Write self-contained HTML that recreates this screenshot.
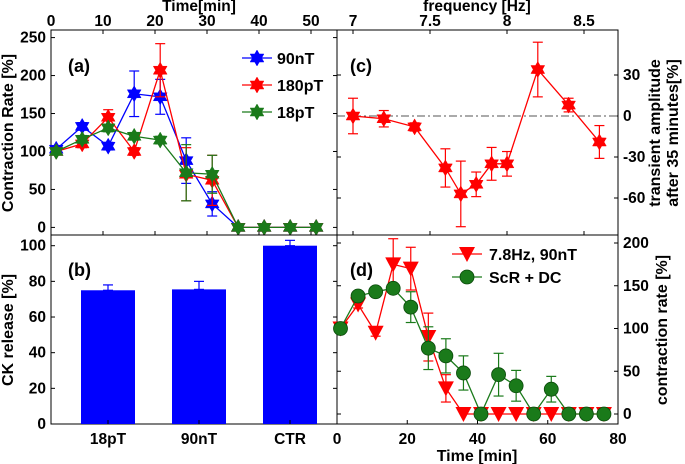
<!DOCTYPE html>
<html><head><meta charset="utf-8"><style>
body{margin:0;background:#fff}
svg{display:block;font-family:"Liberation Sans",Arial,sans-serif;font-weight:bold}
</style></head><body>
<svg id="c" width="685" height="464"></svg>
<script>
// Panel (a)
const aTimes=[1,6,11,16,21,26,31,36,41,46,51];
const aBlue=[103,133,107,176,172,88,31,0,0,0,0];
const aBlueErr=[4,5,5,30,23,30,16,0,0,0,0];
const aRed=[100,110,145,100,207,70,62,0,0,0,0];
const aRedErr=[3,5,10,5,35,35,33,0,0,0,0];
const aGreen=[100,116,131,120,115,72,70,0,0,0,0];
const aGreenErr=[3,5,5,5,5,37,25,0,0,0,0];
const aXTicks=[0,10,20,30,40,50];
const aYTicks=[0,50,100,150,200,250];
// Panel (b)
const bCats=["18pT","90nT","CTR"];
const bVals=[75,75.5,100];
const bErr=[3,4.5,3];
const bYTicks=[0,20,40,60,80,100];
// Panel (c)
const cFreq=[7.0,7.2,7.4,7.6,7.7,7.8,7.9,8.0,8.2,8.4,8.6];
const cVals=[0,-2,-8,-38,-57,-50,-35,-35,34,8,-19];
const cErr=[13,6,3,14,24,9,12,9,20,5,12];
const cXTicks=[7,7.5,8,8.5];
const cXLabels=["7","7.5","8","8.5"];
const cYTicks=[-60,-30,0,30];
// Panel (d)
const dTimes=[1,6,11,16,21,26,31,36,41,46,51,56,61,66,71,76];
const dRed=[100,128,95,175,170,90,30,0,0,0,0,0,0,0,0,0];
const dRedErr=[3,4,4,30,25,28,16,0,0,0,0,0,0,0,0,0];
const dGreen=[100,138,143,147,125,77,68,48,0,46,33,0,29,0,0,0];
const dGreenErr=[3,4,4,5,18,25,20,20,0,25,18,0,15,0,0,0];
const dXTicks=[0,20,40,60,80];
const dYTicks=[0,50,100,150,200];

const NS="http://www.w3.org/2000/svg";
const svg=document.getElementById('c');
function el(t,a,p){const e=document.createElementNS(NS,t);for(const k in a)e.setAttribute(k,a[k]);(p||svg).appendChild(e);return e;}
function txt(s,x,y,a,p){const e=el('text',Object.assign({x:x,y:y,'font-size':15.5,fill:'#000'},a||{}),p);e.textContent=s;return e;}
function lin(d0,d1,r0,r1){return v=>r0+(v-d0)*(r1-r0)/(d1-d0);}
function star(g,x,y,r,col){
  const p=[];for(let k=0;k<12;k++){const ang=Math.PI/2+k*Math.PI/6;const rr=k%2?r*0.58:r;p.push((x+rr*Math.cos(ang)).toFixed(1)+','+(y-rr*Math.sin(ang)).toFixed(1));}
  return el('polygon',{points:p.join(' '),fill:col,stroke:col,'stroke-width':0.5},g);
}
function errbar(g,x,y0,y1,col){el('line',{x1:x,x2:x,y1:y0,y2:y1,stroke:col,'stroke-width':1.2},g);
  el('line',{x1:x-5,x2:x+5,y1:y0,y2:y0,stroke:col,'stroke-width':1.2},g);el('line',{x1:x-5,x2:x+5,y1:y1,y2:y1,stroke:col,'stroke-width':1.2},g);}

// ---- Panel a ----
const ax=lin(0,55,51,337), ay=lin(-10,260,235,30);
const ga=el('g',{}); 
el('rect',{x:51,y:30,width:286,height:205,fill:'none',stroke:'#000','stroke-width':1},ga);
aXTicks.forEach(t=>{el('line',{x1:ax(t),x2:ax(t),y1:30,y2:34,stroke:'#000'},ga);el('line',{x1:ax(t),x2:ax(t),y1:235,y2:231,stroke:'#000'},ga);txt(String(t),ax(t),26,{'text-anchor':'middle'},ga);});
aYTicks.forEach(t=>{el('line',{x1:51,x2:55,y1:ay(t),y2:ay(t),stroke:'#000'},ga);el('line',{x1:337,x2:333,y1:ay(t),y2:ay(t),stroke:'#000'},ga);txt(String(t),46,ay(t)+5,{'text-anchor':'end'},ga);});
txt('Time[min]',199,11,{'text-anchor':'middle'},ga);
txt('Contraction Rate [%]',13,133,{'text-anchor':'middle','font-size':16,transform:'rotate(-90 13 133)'},ga);
txt('(a)',68,72,{'font-size':18},ga);
[[aBlue,aBlueErr,'#0000ff','series-90nT'],[aRed,aRedErr,'#ff0000','series-180pT'],[aGreen,aGreenErr,'#1a7a1a','series-18pT']].forEach(([v,e,col,nm])=>{
  const g=el('g',{},ga);
  el('polyline',{points:aTimes.map((t,i)=>ax(t)+','+ay(v[i])).join(' '),fill:'none',stroke:col,'stroke-width':1.3},g);
  aTimes.forEach((t,i)=>{if(e[i]>0)errbar(g,ax(t),ay(v[i]-e[i]),ay(v[i]+e[i]),col);star(g,ax(t),ay(v[i]),8,col);});
});
[['90nT','#0000ff',58],['180pT','#ff0000',85],['18pT','#1a7a1a',112]].forEach(([l,col,y])=>{
  const g=el('g',{},ga);
  el('line',{x1:242,x2:272,y1:y,y2:y,stroke:col,'stroke-width':1.3},g);star(g,257,y,8,col);txt(l,277,y+6,{'font-size':16},g);
});

// ---- Panel b ----
const by=lin(0,106,424,235);
const bx=i=>108+i*91;
const gb=el('g',{});
el('rect',{x:51,y:235,width:286,height:189,fill:'none',stroke:'#000'},gb);
bYTicks.forEach(t=>{el('line',{x1:51,x2:55,y1:by(t),y2:by(t),stroke:'#000'},gb);el('line',{x1:337,x2:333,y1:by(t),y2:by(t),stroke:'#000'},gb);txt(String(t),46,by(t)+5,{'text-anchor':'end'},gb);});
bCats.forEach((c,i)=>{
  const b=el('rect',{x:bx(i)-27,y:by(bVals[i]),width:54,height:by(0)-by(bVals[i]),fill:'#0000ff'},gb);
  
  errbar(gb,bx(i),by(bVals[i]+bErr[i]),by(bVals[i]),'#0000ff');
  el('line',{x1:bx(i),x2:bx(i),y1:424,y2:420,stroke:'#000'},gb);
  txt(c,bx(i),444,{'text-anchor':'middle'},gb);
});
txt('CK release [%]',13,330,{'text-anchor':'middle','font-size':16,transform:'rotate(-90 13 330)'},gb);
txt('(b)',68,276,{'font-size':18},gb);

// ---- Panel c ----
const cx=lin(7,8,353,507), cy=lin(0,30,116,75);
const gc=el('g',{});
el('rect',{x:337,y:30,width:281,height:205,fill:'none',stroke:'#000'},gc);
cXTicks.forEach((t,i)=>{el('line',{x1:cx(t),x2:cx(t),y1:30,y2:34,stroke:'#000'},gc);el('line',{x1:cx(t),x2:cx(t),y1:235,y2:231,stroke:'#000'},gc);txt(cXLabels[i],cx(t),26,{'text-anchor':'middle'},gc);});
cYTicks.forEach(t=>{el('line',{x1:337,x2:341,y1:cy(t),y2:cy(t),stroke:'#000'},gc);el('line',{x1:618,x2:614,y1:cy(t),y2:cy(t),stroke:'#000'},gc);txt(String(t),623,cy(t)+5,{},gc);});
el('line',{x1:337,x2:618,y1:cy(0),y2:cy(0),stroke:'#555','stroke-dasharray':'8 3 2 3'},gc);
txt('frequency [Hz]',477,11,{'text-anchor':'middle'},gc);
txt('transient amplitude',660,133,{'text-anchor':'middle','font-size':16,transform:'rotate(-90 660 133)'},gc);
txt('after 35 minutes[%]',678,133,{'text-anchor':'middle','font-size':16,transform:'rotate(-90 678 133)'},gc);
txt('(c)',350,72,{'font-size':18},gc);
const gcs=el('g',{},gc);
el('polyline',{points:cFreq.map((f,i)=>cx(f)+','+cy(cVals[i])).join(' '),fill:'none',stroke:'#ff0000','stroke-width':1.3},gcs);
cFreq.forEach((f,i)=>{errbar(gcs,cx(f),cy(cVals[i]-cErr[i]),cy(cVals[i]+cErr[i]),'#ff0000');star(gcs,cx(f),cy(cVals[i]),8,'#ff0000');});

// ---- Panel d ----
const dx=lin(0,80,337,618), dy=lin(0,200,414,243);
const gd=el('g',{});
el('rect',{x:337,y:235,width:281,height:189,fill:'none',stroke:'#000'},gd);
dXTicks.forEach(t=>{el('line',{x1:dx(t),x2:dx(t),y1:424,y2:420,stroke:'#000'},gd);txt(String(t),dx(t),444,{'text-anchor':'middle'},gd);});
dYTicks.forEach(t=>{el('line',{x1:337,x2:341,y1:dy(t),y2:dy(t),stroke:'#000'},gd);el('line',{x1:618,x2:614,y1:dy(t),y2:dy(t),stroke:'#000'},gd);txt(String(t),623,dy(t)+5,{},gd);});
txt('Time [min]',477,461,{'text-anchor':'middle','font-size':16},gd);
txt('contraction rate [%]',667,330,{'text-anchor':'middle','font-size':16,transform:'rotate(-90 667 330)'},gd);
txt('(d)',350,276,{'font-size':18},gd);
function tri(g,x,y,col){el('polygon',{points:`${x-8},${y-7} ${x+8},${y-7} ${x},${y+8}`,fill:col},g);}
function circ(g,x,y,col){el('circle',{cx:x,cy:y,r:7,fill:col,stroke:'#0a4a0a','stroke-width':0.8},g);}
const gdr=el('g',{},gd);
el('polyline',{points:dTimes.map((t,i)=>dx(t)+','+dy(dRed[i])).join(' '),fill:'none',stroke:'#ff0000','stroke-width':1.3},gdr);
dTimes.forEach((t,i)=>{if(dRedErr[i]>0)errbar(gdr,dx(t),dy(dRed[i]-dRedErr[i]),dy(dRed[i]+dRedErr[i]),'#ff0000');tri(gdr,dx(t),dy(dRed[i]),'#ff0000');});
const gdg=el('g',{},gd);
el('polyline',{points:dTimes.map((t,i)=>dx(t)+','+dy(dGreen[i])).join(' '),fill:'none',stroke:'#1a7a1a','stroke-width':1.3},gdg);
dTimes.forEach((t,i)=>{if(dGreenErr[i]>0)errbar(gdg,dx(t),dy(dGreen[i]-dGreenErr[i]),dy(dGreen[i]+dGreenErr[i]),'#1a7a1a');circ(gdg,dx(t),dy(dGreen[i]),'#1a7a1a');});
const l1=el('g',{},gd);
el('line',{x1:452,x2:482,y1:254,y2:254,stroke:'#ff0000','stroke-width':1.3},l1);tri(l1,467,254,'#ff0000');txt('7.8Hz, 90nT',489,260,{'font-size':16},l1);
const l2=el('g',{},gd);
el('line',{x1:452,x2:482,y1:277,y2:277,stroke:'#1a7a1a','stroke-width':1.3},l2);circ(l2,467,277,'#1a7a1a');txt('ScR + DC',489,283,{'font-size':16},l2);
</script>
</body></html>
